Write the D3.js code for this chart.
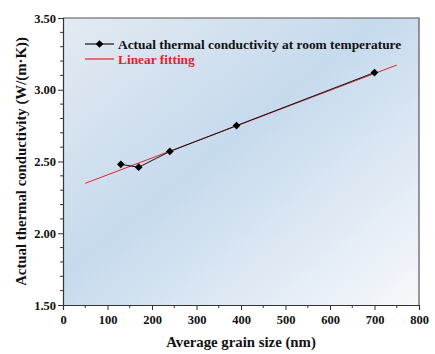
<!DOCTYPE html>
<html>
<head>
<meta charset="utf-8">
<script src="https://cdn.jsdelivr.net/npm/d3@7"></script>
<style>
  body { margin: 0; background: #fff; }
  svg text { font-family: "Liberation Serif", "Times New Roman", serif; font-weight: bold; }
</style>
</head>
<body>
<div id="chart"></div>
<script>
// data
var grainSize = [130, 170, 240, 390, 700];
var conductivity = [2.48, 2.46, 2.57, 2.75, 3.12];
var fitX = [50, 750];
var fitY = [2.348, 3.172];
var xTicks = [0, 100, 200, 300, 400, 500, 600, 700, 800];
var yTicks = [1.5, 2.0, 2.5, 3.0, 3.5];
var legendLabels = ["Actual thermal conductivity at room temperature", "Linear fitting"];

var width = 435, height = 354;
var margin = {top: 18, right: 16, bottom: 49, left: 63};

var svg = d3.select("#chart").append("svg")
  .attr("width", width)
  .attr("height", height);

var x = d3.scaleLinear().domain([0, 800]).range([margin.left, width - margin.right]);
var y = d3.scaleLinear().domain([1.5, 3.5]).range([height - margin.bottom, margin.top]);

// background gradient
var grad = svg.append("defs").append("linearGradient")
  .attr("id", "bg")
  .attr("x1", "0%").attr("y1", "0%")
  .attr("x2", "100%").attr("y2", "100%");
grad.append("stop").attr("offset", "0%").attr("stop-color", "#e4eaf2");
grad.append("stop").attr("offset", "45%").attr("stop-color", "#c6daed");
grad.append("stop").attr("offset", "100%").attr("stop-color", "#f7f8fb");

svg.append("rect")
  .attr("x", x(0)).attr("y", y(3.5))
  .attr("width", x(800) - x(0)).attr("height", y(1.5) - y(3.5))
  .attr("fill", "url(#bg)");

// frame (top + right)
svg.append("path")
  .attr("d", "M" + x(0) + "," + y(3.5) + "H" + x(800) + "V" + y(1.5))
  .attr("fill", "none").attr("stroke", "#555").attr("stroke-width", 1.2);

// minor ticks
var g = svg.append("g");
g.selectAll(".xminor").data(d3.range(50, 800, 100)).enter().append("line")
  .attr("x1", d => x(d)).attr("x2", d => x(d))
  .attr("y1", y(1.5)).attr("y2", y(1.5) + 3)
  .attr("stroke", "#333");
g.selectAll(".yminor").data(d3.range(1.6, 3.5, 0.1).filter(d => Math.abs(d * 2 - Math.round(d * 2)) > 0.01)).enter().append("line")
  .attr("x1", x(0) - 3).attr("x2", x(0))
  .attr("y1", d => y(d)).attr("y2", d => y(d))
  .attr("stroke", "#333");

// axes
var xAxis = svg.append("g")
  .attr("transform", "translate(0," + y(1.5) + ")")
  .call(d3.axisBottom(x).tickValues(xTicks).tickSize(5).tickPadding(5).tickFormat(d3.format("d")));
var yAxis = svg.append("g")
  .attr("transform", "translate(" + x(0) + ",0)")
  .call(d3.axisLeft(y).tickValues(yTicks).tickSize(5).tickPadding(2).tickFormat(d3.format(".2f")));

[xAxis, yAxis].forEach(function(a) {
  a.select(".domain").attr("stroke", "#333").attr("stroke-width", 1.2);
  a.selectAll(".tick line").attr("stroke", "#333");
  a.selectAll("text").attr("font-size", 12.5).attr("fill", "#111")
    .attr("font-family", "Liberation Serif").attr("font-weight", "bold");
});

// fit line
svg.append("line")
  .attr("x1", x(fitX[0])).attr("y1", y(fitY[0]))
  .attr("x2", x(fitX[1])).attr("y2", y(fitY[1]))
  .attr("stroke", "#e0242c").attr("stroke-width", 1);

// data line + markers
var pts = grainSize.map((d, i) => [d, conductivity[i]]);
svg.append("path")
  .datum(pts)
  .attr("d", d3.line().x(d => x(d[0])).y(d => y(d[1])))
  .attr("fill", "none").attr("stroke", "#111").attr("stroke-width", 1);

var diamond = d3.symbol().type(d3.symbolSquare).size(30);
svg.selectAll(".pt").data(pts).enter().append("path")
  .attr("d", diamond)
  .attr("transform", d => "translate(" + x(d[0]) + "," + y(d[1]) + ") rotate(45)")
  .attr("fill", "#000");

// legend
var lg = svg.append("g");
lg.append("line").attr("x1", 85).attr("x2", 114).attr("y1", 44).attr("y2", 44)
  .attr("stroke", "#111").attr("stroke-width", 1.2);
lg.append("path").attr("d", diamond).attr("transform", "translate(99.5,44) rotate(45)").attr("fill", "#000");
lg.append("text").attr("x", 118).attr("y", 48.5).attr("font-size", 13.4).attr("fill", "#111").text(legendLabels[0]);
lg.append("line").attr("x1", 85).attr("x2", 114).attr("y1", 59).attr("y2", 59)
  .attr("stroke", "#e0242c").attr("stroke-width", 1.2);
lg.append("text").attr("x", 118).attr("y", 63.5).attr("font-size", 13.4).attr("fill", "#e0242c").text(legendLabels[1]);

// axis titles
svg.append("text")
  .attr("x", (x(0) + x(800)) / 2).attr("y", 347)
  .attr("text-anchor", "middle").attr("font-size", 14.8).attr("fill", "#111")
  .text("Average grain size (nm)");
svg.append("text")
  .attr("transform", "translate(26," + ((y(1.5) + y(3.5)) / 2) + ") rotate(-90)")
  .attr("text-anchor", "middle").attr("font-size", 14.8).attr("fill", "#111")
  .text("Actual thermal conductivity (W/(m·K))");
</script>
</body>
</html>
